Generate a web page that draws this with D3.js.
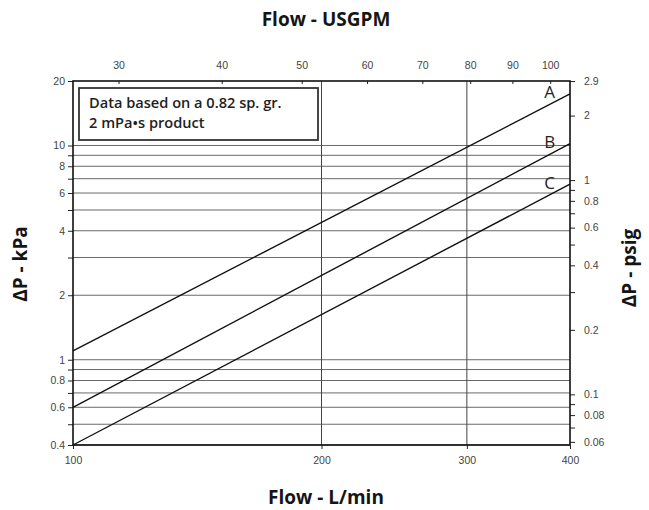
<!DOCTYPE html>
<html lang="en">
<head>
<meta charset="UTF-8">
<title>Pressure drop vs flow</title>
<script src="https://d3js.org/d3.v7.min.js"></script>
<style>
    body { margin: 0; padding: 0; background: #fff; }
    svg { display: block; }
    .tick text { font-family: "Liberation Sans", Arial, sans-serif; font-size: 10.5px; fill: #444; }
    .tick line { stroke: #222; }
    .domain { stroke: none; }
    .title { font-family: "Open Sans", sans-serif; font-weight: 700; font-size: 19px; fill: #151515; }
</style>
</head>
<body>
<svg id="chart"></svg>
<script>
    // flow in L/min at the two ends of each line
    const flowLmin = [100, 400];
    const curveNames = ["A", "B", "C"];
    const dpA = [1.1, 17.4];
    const dpB = [0.6, 10.2];
    const dpC = [0.4, 6.6];

    const kpaGrid = [0.4, 0.5, 0.6, 0.7, 0.8, 0.9, 1, 2, 3, 4, 5, 6, 7, 8, 9, 10];
    const kpaLabels = [0.4, 0.6, 0.8, 1, 2, 4, 6, 8, 10, 20];
    const lminTicks = [100, 200, 300, 400];
    const lminGrid = [200, 300];
    const gpmTicks = [30, 40, 50, 60, 70, 80, 90, 100];
    const psiTicks = [0.06, 0.07, 0.08, 0.09, 0.1, 0.2, 0.3, 0.4, 0.5, 0.6, 0.7, 0.8, 0.9, 1, 2, 2.9];
    const psiLabels = [0.06, 0.08, 0.1, 0.2, 0.4, 0.6, 0.8, 1, 2, 2.9];
    const noteLines = ["Data based on a 0.82 sp. gr.", "2 mPa\u2022s product"];

    const LPM_PER_GPM = 3.785;
    const KPA_PER_PSI = 6.895;

    const width = 649, height = 510;
    const plotL = 73, plotR = 570, plotT = 81, plotB = 445;

    const svg = d3.select("#chart").attr("width", width).attr("height", height);

    const x = d3.scaleLog().domain([100, 400]).range([plotL, plotR]);
    const y = d3.scaleLog().domain([0.4, 20]).range([plotB, plotT]);
    const xGpm = d3.scaleLog().domain([100 / LPM_PER_GPM, 400 / LPM_PER_GPM]).range([plotL, plotR]);
    const yPsi = d3.scaleLog().domain([0.4 / KPA_PER_PSI, 20 / KPA_PER_PSI]).range([plotB, plotT]);

    // grid
    svg.append("g").selectAll("line")
        .data(kpaGrid)
        .enter().append("line")
        .attr("x1", plotL).attr("x2", plotR)
        .attr("y1", d => y(d)).attr("y2", d => y(d))
        .attr("stroke", "#6a6a6a").attr("stroke-width", 1);

    svg.append("g").selectAll("line")
        .data(lminGrid)
        .enter().append("line")
        .attr("x1", d => x(d)).attr("x2", d => x(d))
        .attr("y1", plotT).attr("y2", plotB)
        .attr("stroke", "#444").attr("stroke-width", 1);

    // note box
    const box = svg.append("g");
    box.append("rect")
        .attr("x", 79).attr("y", 88).attr("width", 239).attr("height", 52)
        .attr("fill", "#fff").attr("stroke", "#333").attr("stroke-width", 1.8);
    box.selectAll("text")
        .data(noteLines)
        .enter().append("text")
        .attr("x", 89).attr("y", (d, i) => 108 + i * 20)
        .style("font-family", "'Open Sans', sans-serif")
        .style("font-weight", 600)
        .style("font-size", "14.6px")
        .style("fill", "#222")
        .text(d => d);

    // curves
    const curves = [dpA, dpB, dpC].map((vals, i) => ({
        name: curveNames[i],
        points: flowLmin.map((f, j) => [f, vals[j]])
    }));

    const line = d3.line().x(d => x(d[0])).y(d => y(d[1]));

    svg.append("g").selectAll("path")
        .data(curves)
        .enter().append("path")
        .attr("d", d => line(d.points))
        .attr("fill", "none")
        .attr("stroke", "#111")
        .attr("stroke-width", 1.4);

    // value of a straight (log-log) line at a given flow
    function valueAt(c, f) {
        const [p0, p1] = c.points;
        const k = Math.log(p1[1] / p0[1]) / Math.log(p1[0] / p0[0]);
        return p0[1] * Math.pow(f / p0[0], k);
    }

    const labelFlow = 378;
    svg.append("g").selectAll("text")
        .data(curves)
        .enter().append("text")
        .attr("x", x(labelFlow))
        .attr("y", d => y(valueAt(d, labelFlow)) - 6)
        .attr("text-anchor", "middle")
        .style("font-family", "'Open Sans', sans-serif")
        .style("font-size", "17px")
        .style("fill", "#222")
        .text(d => d.name);

    // axes
    const fmt = v => String(v);

    svg.append("g")
        .attr("transform", `translate(${plotL},0)`)
        .call(d3.axisLeft(y).tickValues(kpaGrid.concat([20])).tickSize(5)
            .tickFormat(d => kpaLabels.includes(d) ? fmt(d) : ""));

    svg.append("g")
        .attr("transform", `translate(${plotR},0)`)
        .call(d3.axisRight(yPsi).tickValues(psiTicks).tickSize(5)
            .tickFormat(d => psiLabels.includes(d) ? fmt(d) : ""))
        .selectAll(".tick text").attr("x", 14);

    svg.append("g")
        .attr("transform", `translate(0,${plotB})`)
        .call(d3.axisBottom(x).tickValues(lminTicks).tickSize(4).tickFormat(fmt))
        .selectAll(".tick text").attr("y", 12);

    svg.append("g")
        .attr("transform", `translate(0,${plotT})`)
        .call(d3.axisTop(xGpm).tickValues(gpmTicks).tickSize(-3).tickFormat(fmt))
        .selectAll(".tick text").attr("y", -12);

    // frame
    svg.append("rect")
        .attr("x", plotL).attr("y", plotT)
        .attr("width", plotR - plotL).attr("height", plotB - plotT)
        .attr("fill", "none").attr("stroke", "#111").attr("stroke-width", 1.6);

    // titles
    svg.append("text").attr("class", "title")
        .attr("x", 326).attr("y", 26).attr("text-anchor", "middle")
        .text("Flow - USGPM");
    svg.append("text").attr("class", "title")
        .attr("x", 326).attr("y", 504).attr("text-anchor", "middle")
        .text("Flow - L/min");
    svg.append("text").attr("class", "title")
        .attr("transform", "translate(27,264) rotate(-90)")
        .attr("text-anchor", "middle")
        .text("\u0394P - kPa");
    svg.append("text").attr("class", "title")
        .attr("transform", "translate(636,268) rotate(-90)")
        .attr("text-anchor", "middle")
        .text("\u0394P - psig");
</script>
</body>
</html>
